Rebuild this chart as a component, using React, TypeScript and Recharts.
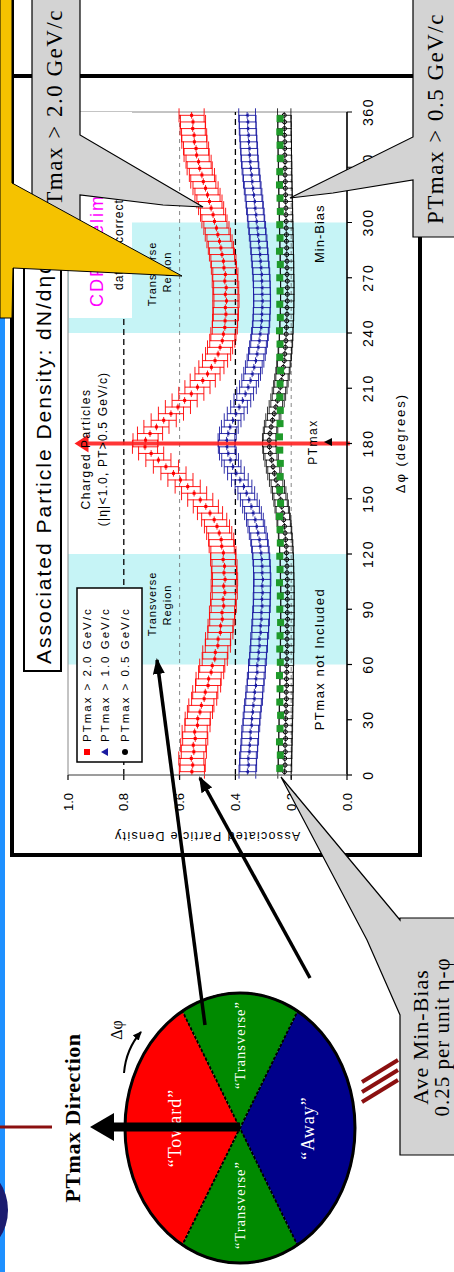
import React from "react";
import {
  ScatterChart,
  Scatter,
  XAxis,
  YAxis,
  ErrorBar,
  ReferenceArea,
  ReferenceLine,
  PieChart,
  Pie,
  Cell,
} from "recharts";

// The slide is laid out in its own (landscape) frame and then turned 90° CCW,
// the way it appears in the picture.
const SANS = "'Liberation Sans', Arial, sans-serif";
const SERIF = "'Liberation Serif', 'Times New Roman', serif";

// Δφ bin centres (3.6° bins)
const PHI = [
  1.8, 5.4, 9, 12.6, 16.2, 19.8, 23.4, 27, 30.6, 34.2,
  37.8, 41.4, 45, 48.6, 52.2, 55.8, 59.4, 63, 66.6, 70.2,
  73.8, 77.4, 81, 84.6, 88.2, 91.8, 95.4, 99, 102.6, 106.2,
  109.8, 113.4, 117, 120.6, 124.2, 127.8, 131.4, 135, 138.6, 142.2,
  145.8, 149.4, 153, 156.6, 160.2, 163.8, 167.4, 171, 174.6, 178.2,
  181.8, 185.4, 189, 192.6, 196.2, 199.8, 203.4, 207, 210.6, 214.2,
  217.8, 221.4, 225, 228.6, 232.2, 235.8, 239.4, 243, 246.6, 250.2,
  253.8, 257.4, 261, 264.6, 268.2, 271.8, 275.4, 279, 282.6, 286.2,
  289.8, 293.4, 297, 300.6, 304.2, 307.8, 311.4, 315, 318.6, 322.2,
  325.8, 329.4, 333, 336.6, 340.2, 343.8, 347.4, 351, 354.6, 358.2,
];

// Min-bias uses 7.2° bins
const PHI_MINBIAS = [
  3.6, 10.8, 18, 25.2, 32.4, 39.6, 46.8, 54, 61.2, 68.4,
  75.6, 82.8, 90, 97.2, 104.4, 111.6, 118.8, 126, 133.2, 140.4,
  147.6, 154.8, 162, 169.2, 176.4, 183.6, 190.8, 198, 205.2, 212.4,
  219.6, 226.8, 234, 241.2, 248.4, 255.6, 262.8, 270, 277.2, 284.4,
  291.6, 298.8, 306, 313.2, 320.4, 327.6, 334.8, 342, 349.2, 356.4,
];

const PT20 = [
  0.556, 0.553, 0.558, 0.549, 0.551, 0.544, 0.546, 0.536, 0.535, 0.527,
  0.522, 0.512, 0.508, 0.498, 0.496, 0.487, 0.483, 0.474, 0.472, 0.463,
  0.462, 0.454, 0.453, 0.447, 0.448, 0.442, 0.444, 0.438, 0.442, 0.437,
  0.441, 0.439, 0.444, 0.443, 0.449, 0.451, 0.458, 0.466, 0.476, 0.491,
  0.506, 0.526, 0.548, 0.571, 0.597, 0.622, 0.649, 0.676, 0.702, 0.724,
  0.722, 0.706, 0.683, 0.657, 0.631, 0.606, 0.582, 0.558, 0.536, 0.517,
  0.5, 0.486, 0.473, 0.462, 0.455, 0.447, 0.443, 0.438, 0.437, 0.434,
  0.436, 0.432, 0.436, 0.433, 0.438, 0.436, 0.441, 0.443, 0.448, 0.452,
  0.457, 0.463, 0.468, 0.475, 0.48, 0.487, 0.493, 0.5, 0.507, 0.515,
  0.52, 0.528, 0.532, 0.539, 0.541, 0.547, 0.548, 0.553, 0.552, 0.557,
];

const PT10 = [
  0.357, 0.354, 0.355, 0.351, 0.35, 0.347, 0.347, 0.343, 0.342, 0.339,
  0.337, 0.333, 0.332, 0.328, 0.327, 0.323, 0.323, 0.319, 0.318, 0.315,
  0.315, 0.311, 0.311, 0.308, 0.308, 0.305, 0.306, 0.304, 0.305, 0.303,
  0.305, 0.305, 0.307, 0.309, 0.312, 0.315, 0.32, 0.325, 0.33, 0.337,
  0.344, 0.352, 0.361, 0.371, 0.384, 0.398, 0.41, 0.419, 0.427, 0.431,
  0.432, 0.427, 0.42, 0.41, 0.399, 0.387, 0.375, 0.365, 0.355, 0.347,
  0.34, 0.334, 0.328, 0.323, 0.319, 0.315, 0.312, 0.309, 0.307, 0.306,
  0.305, 0.304, 0.305, 0.305, 0.306, 0.307, 0.309, 0.311, 0.313, 0.315,
  0.317, 0.32, 0.322, 0.325, 0.327, 0.33, 0.332, 0.335, 0.338, 0.341,
  0.343, 0.346, 0.348, 0.35, 0.351, 0.353, 0.354, 0.356, 0.356, 0.358,
];

const PT05 = [
  0.224, 0.222, 0.223, 0.221, 0.222, 0.22, 0.221, 0.219, 0.22, 0.218,
  0.219, 0.217, 0.218, 0.216, 0.217, 0.216, 0.216, 0.215, 0.216, 0.214,
  0.215, 0.214, 0.215, 0.213, 0.214, 0.213, 0.214, 0.213, 0.214, 0.214,
  0.215, 0.215, 0.216, 0.217, 0.218, 0.22, 0.222, 0.224, 0.227, 0.23,
  0.234, 0.238, 0.243, 0.248, 0.254, 0.26, 0.265, 0.27, 0.275, 0.278,
  0.279, 0.276, 0.272, 0.267, 0.261, 0.255, 0.249, 0.244, 0.239, 0.235,
  0.231, 0.228, 0.225, 0.223, 0.221, 0.219, 0.218, 0.217, 0.216, 0.215,
  0.215, 0.214, 0.214, 0.214, 0.214, 0.215, 0.215, 0.215, 0.216, 0.216,
  0.217, 0.217, 0.218, 0.218, 0.219, 0.219, 0.22, 0.22, 0.221, 0.221,
  0.222, 0.222, 0.222, 0.223, 0.223, 0.223, 0.224, 0.224, 0.224, 0.225,
];

const MINBIAS = [
  0.241, 0.239, 0.242, 0.24, 0.238, 0.241, 0.24, 0.242, 0.239, 0.241,
  0.24, 0.238, 0.241, 0.239, 0.242, 0.24, 0.241, 0.239, 0.24, 0.242,
  0.238, 0.241, 0.24, 0.239, 0.241, 0.242, 0.24, 0.239, 0.241, 0.24,
  0.238, 0.241, 0.24, 0.242, 0.239, 0.241, 0.24, 0.241, 0.239, 0.242,
  0.24, 0.241, 0.239, 0.24, 0.242, 0.241, 0.239, 0.24, 0.241, 0.24,
];

const PT20_ERR = 0.045;
const PT10_ERR = 0.03;
const PT05_ERR = 0.024;
const HALF_BIN = 1.8;

const PHI_TICKS = [0, 30, 60, 90, 120, 150, 180, 210, 240, 270, 300, 330, 360];
const DENSITY_TICKS = [0, 0.2, 0.4, 0.6, 0.8, 1.0];
const TRANSVERSE_BANDS = [
  [60, 120],
  [240, 300],
];
const LEGEND_LABELS = ["PTmax > 2.0 GeV/c", "PTmax > 1.0 GeV/c", "PTmax > 0.5 GeV/c"];

const REGIONS = ["“Toward”", "“Transverse”", "“Away”", "“Transverse”"];
const REGION_SPAN = [120, 60, 120, 60];
const REGION_COLORS = ["#ff0000", "#008a00", "#00008b", "#008a00"];

const points = (vals: number[], phi: number[], err: number, half: number) =>
  vals.map((y, i) => ({ x: phi[i], y, ey: err, ex: half }));

const pt20 = points(PT20, PHI, PT20_ERR, HALF_BIN);
const pt10 = points(PT10, PHI, PT10_ERR, HALF_BIN);
const pt05 = points(PT05, PHI, PT05_ERR, HALF_BIN);
const minBias = points(MINBIAS, PHI_MINBIAS, 0, 0);
const arrowTip = [{ x: 180, y: 0.93 }];
const pieData = REGIONS.map((name, i) => ({ name, value: REGION_SPAN[i] }));

const RED = "#ff0000";
const BLUE = "#1a1aa0";

const RedMark = (p: any) => <rect x={p.cx - 1.5} y={p.cy - 1.5} width={3} height={3} fill={RED} />;
const BlueMark = (p: any) => (
  <polygon points={`${p.cx - 2},${p.cy + 1.5} ${p.cx + 2},${p.cy + 1.5} ${p.cx},${p.cy - 2}`} fill={BLUE} />
);
const BlackMark = (p: any) => <circle cx={p.cx} cy={p.cy} r={2} fill="none" stroke="#000" strokeWidth={1} />;
const GreenMark = (p: any) => <rect x={p.cx - 3.5} y={p.cy - 3.5} width={7} height={7} fill="#1f9a2a" />;
const ArrowHead = (p: any) => (
  <polygon points={`${p.cx - 9},${p.cy + 1} ${p.cx + 9},${p.cy + 1} ${p.cx},${p.cy - 13}`} fill="#ff2020" />
);

function DensityChart() {
  return (
    <ScatterChart width={800} height={370} margin={{ top: 38, right: 40, bottom: 13, left: 27 }}>
      {TRANSVERSE_BANDS.map(([a, b]) => (
        <ReferenceArea key={a} x1={a} x2={b} y1={0} y2={1} fill="#c6f4f6" fillOpacity={1} stroke="none" />
      ))}
      <ReferenceArea x1={0} x2={360} y1={0} y2={1} fill="none" stroke="#888" strokeWidth={1} />
      <ReferenceLine y={0.8} stroke="#000" strokeDasharray="6 4" strokeWidth={1.3} />
      <ReferenceLine y={0.4} stroke="#000" strokeDasharray="6 4" strokeWidth={1.3} />
      <ReferenceLine y={0.6} stroke="#666" strokeDasharray="4 4" strokeWidth={0.8} />
      <ReferenceLine y={0.2} stroke="#666" strokeDasharray="4 4" strokeWidth={0.8} />
      <XAxis
        type="number"
        dataKey="x"
        domain={[0, 360]}
        ticks={PHI_TICKS}
        interval={0}
        height={40}
        tickSize={5}
        tickMargin={11}
        axisLine={{ stroke: "#000", strokeWidth: 1.5 }}
        tickLine={{ stroke: "#000", strokeWidth: 1.2 }}
        tick={{ fontSize: 14, fill: "#000", fontFamily: SANS, letterSpacing: 1.5 }}
      />
      <YAxis
        type="number"
        dataKey="y"
        domain={[0, 1]}
        ticks={DENSITY_TICKS}
        interval={0}
        width={70}
        tickSize={5}
        tickMargin={13}
        tickFormatter={(v: number) => v.toFixed(1)}
        axisLine={{ stroke: "#777", strokeWidth: 1 }}
        tickLine={{ stroke: "#000", strokeWidth: 1.2 }}
        tick={{ fontSize: 13, fill: "#000", fontFamily: SANS }}
      />
      <Scatter data={pt05} shape={BlackMark} isAnimationActive={false}>
        <ErrorBar dataKey="ey" direction="y" width={7} stroke="#000" strokeWidth={0.8} />
        <ErrorBar dataKey="ex" direction="x" width={0} stroke="#000" strokeWidth={0.8} />
      </Scatter>
      <Scatter data={minBias} shape={GreenMark} isAnimationActive={false} />
      <Scatter data={pt10} shape={BlueMark} isAnimationActive={false}>
        <ErrorBar dataKey="ey" direction="y" width={7} stroke={BLUE} strokeWidth={0.9} />
        <ErrorBar dataKey="ex" direction="x" width={0} stroke={BLUE} strokeWidth={0.9} />
      </Scatter>
      <Scatter data={pt20} shape={RedMark} isAnimationActive={false}>
        <ErrorBar dataKey="ey" direction="y" width={7} stroke={RED} strokeWidth={0.9} />
        <ErrorBar dataKey="ex" direction="x" width={0} stroke={RED} strokeWidth={0.9} />
      </Scatter>
      <ReferenceLine
        segment={[
          { x: 180, y: -0.01 },
          { x: 180, y: 0.93 },
        ]}
        stroke="#ff2020"
        strokeOpacity={0.9}
        strokeWidth={4}
        ifOverflow="visible"
      />
      <Scatter data={arrowTip} shape={ArrowHead} isAnimationActive={false} />
    </ScatterChart>
  );
}

function RegionPie() {
  return (
    <PieChart width={280} height={280}>
      <Pie
        data={pieData}
        dataKey="value"
        nameKey="name"
        cx="50%"
        cy="50%"
        outerRadius={135}
        startAngle={30}
        endAngle={390}
        stroke="#000"
        strokeWidth={2}
        strokeDasharray="3 2"
        isAnimationActive={false}
      >
        {pieData.map((d, i) => (
          <Cell key={i} fill={REGION_COLORS[i]} />
        ))}
      </Pie>
    </PieChart>
  );
}

const full: React.CSSProperties = { position: "absolute", left: 0, top: 0, overflow: "visible" };

export default function App() {
  const legendColors = [RED, BLUE, "#000"];
  const legendRows = [87, 105, 125];
  const pieLabelPos = [
    [144, 175],
    [67, 240],
    [144, 308],
    [227, 240],
  ];
  const pieLabelSize = [18, 14.5, 18, 14.5];
  return (
    <div style={{ position: "fixed", left: 0, top: 0, width: 454, height: 1272, overflow: "hidden", background: "#fff" }}>
      <div
        style={{
          position: "absolute",
          left: 0,
          top: 0,
          width: 1272,
          height: 454,
          transformOrigin: "0 0",
          transform: "translateY(1272px) rotate(-90deg)",
        }}
      >
        {/* back layer */}
        <svg width={1272} height={454} style={full}>
          <rect x={0} y={0} width={954} height={5} fill="#1e90ff" />
          <ellipse cx={62} cy={-22} rx={40} ry={30} fill="#1c1c70" />
          <rect x={417} y={12} width={900} height={408} fill="#fff" stroke="#000" strokeWidth={4} />
          <line x1={1196} y1={12} x2={1196} y2={420} stroke="#000" strokeWidth={4} />
          <rect x={601} y={24} width={460} height={37} fill="#fff" stroke="#000" strokeWidth={2} />
          <text x={608} y={51} fontFamily={SANS} fontSize={21} letterSpacing={2} fill="#000">
            Associated Particle Density: dN/dηdφ
          </text>
          <text
            x={436}
            y={207}
            transform="rotate(-90 436 207)"
            textAnchor="middle"
            dominantBaseline="central"
            fontFamily={SANS}
            fontSize={12.5}
            letterSpacing={1.3}
          >
            Associated Particle Density
          </text>
          <text x={829} y={400} textAnchor="middle" dominantBaseline="central" fontFamily={SANS} fontSize={13} letterSpacing={2}>
            Δφ  (degrees)
          </text>
        </svg>

        <div style={{ position: "absolute", left: 400, top: 30 }}>
          <DensityChart />
        </div>

        {/* labels inside the plot */}
        <svg width={1272} height={454} style={full}>
          <g fontFamily={SANS} fill="#000" dominantBaseline="central">
            <text x={823} y={86} textAnchor="middle" fontSize={12} letterSpacing={1.5}>Charged Particles</text>
            <text x={823} y={103} textAnchor="middle" fontSize={12} letterSpacing={1.2}>(|η|&lt;1.0, PT&gt;0.5 GeV/c)</text>
            <text x={668} y={152} textAnchor="middle" fontSize={11} letterSpacing={1}>Transverse</text>
            <text x={667} y={167} textAnchor="middle" fontSize={11} letterSpacing={1}>Region</text>
            <text x={998} y={152} textAnchor="middle" fontSize={11} letterSpacing={1}>Transverse</text>
            <text x={1000} y={167} textAnchor="middle" fontSize={11} letterSpacing={1}>Region</text>
            <text x={613} y={319} textAnchor="middle" fontSize={13} letterSpacing={1.5}>PTmax not Included</text>
            <text x={1009} y={319} fontSize={13} letterSpacing={1}>Min-Bias</text>
            <text x={830} y={313} textAnchor="middle" fontSize={12} letterSpacing={1.5}>PTmax</text>
          </g>
          <polygon points="826,332 834,332 830,324" fill="#000" />
          <rect x={510} y={77} width={174} height={65} fill="#fff" stroke="#000" strokeWidth={1.5} />
          {LEGEND_LABELS.map((l, i) => (
            <g key={l}>
              {i === 0 && <rect x={517} y={legendRows[i] - 3} width={6} height={6} fill={legendColors[i]} />}
              {i === 1 && (
                <polygon
                  points={`516,${legendRows[i] + 3} 524,${legendRows[i] + 3} 520,${legendRows[i] - 4}`}
                  fill={legendColors[i]}
                />
              )}
              {i === 2 && <circle cx={520} cy={legendRows[i]} r={3} fill={legendColors[i]} />}
              <text
                x={530}
                y={legendRows[i]}
                dominantBaseline="central"
                fontFamily={SANS}
                fontSize={11.5}
                letterSpacing={2}
              >
                {l}
              </text>
            </g>
          ))}
          <rect x={954} y={69} width={206} height={63} fill="#fff" />
          <text x={965} y={97} dominantBaseline="central" fontFamily={SANS} fontSize={18} letterSpacing={2} fill="#ff00ff">
            CDF Preliminary
          </text>
          <text x={982} y={119} dominantBaseline="central" fontFamily={SANS} fontSize={12} letterSpacing={1} fill="#000">
            data uncorrected
          </text>
        </svg>

        <div style={{ position: "absolute", left: 4, top: 100, width: 280, height: 280, transform: "scaleY(0.852)" }}>
          <RegionPie />
        </div>

        {/* front layer: pie annotations, arrows, callouts */}
        <svg width={1272} height={454} style={full}>
          <defs>
            <marker id="ah" markerWidth={16} markerHeight={12} refX={14} refY={6} orient="auto" markerUnits="userSpaceOnUse">
              <polygon points="0,0 16,6 0,12" fill="#000" />
            </marker>
            <marker id="ahs" markerWidth={9} markerHeight={8} refX={8} refY={4} orient="auto" markerUnits="userSpaceOnUse">
              <polygon points="0,0 9,4 0,8" fill="#000" />
            </marker>
          </defs>
          <ellipse cx={144} cy={240} rx={135} ry={115} fill="none" stroke="#000" strokeWidth={3} />
          {REGIONS.map((r, i) => (
            <text
              key={i}
              x={pieLabelPos[i][0]}
              y={pieLabelPos[i][1]}
              textAnchor="middle"
              dominantBaseline="central"
              fontFamily={SERIF}
              fontSize={pieLabelSize[i]}
              letterSpacing={1}
              fill="#fff"
            >
              {r}
            </text>
          ))}
          <rect x={140.5} y={112} width={9} height={128} fill="#000" />
          <polygon points="131,114 159,114 145,90" fill="#000" />
          <text x={154} y={80} textAnchor="middle" fontFamily={SERIF} fontSize={22} fontWeight="bold" letterSpacing={0.5}>
            PTmax Direction
          </text>
          <text x={242} y={122} textAnchor="middle" fontFamily={SERIF} fontSize={16}>
            Δφ
          </text>
          <path d="M199,124 Q223,126 240,141" fill="none" stroke="#000" strokeWidth={2} markerEnd="url(#ahs)" />
          <line x1={145} y1={0} x2={145} y2={52} stroke="#8b1010" strokeWidth={3} />
          <line x1={170} y1={362} x2={192} y2={398} stroke="#8b1010" strokeWidth={4} />
          <line x1={180} y1={362} x2={202} y2={398} stroke="#8b1010" strokeWidth={4} />
          <line x1={190} y1={362} x2={212} y2={398} stroke="#8b1010" strokeWidth={4} />
          <line x1={247} y1={205} x2={612} y2={157} stroke="#000" strokeWidth={3.5} markerEnd="url(#ah)" />
          <line x1={294} y1={310} x2={494} y2={200} stroke="#000" strokeWidth={3.5} markerEnd="url(#ah)" />

          <path d="M1042,32 H1282 V80 H1137 L1065,203 L1067,163 L1077,80 H1042 Z" fill="#d3d3d3" stroke="#000" strokeWidth={1.2} />
          <text x={1052} y={62} fontFamily={SERIF} fontSize={23} letterSpacing={1.5}>PTmax &gt; 2.0 GeV/c</text>
          <path d="M1035,460 V413 H1092 L1079,333 L1074,290 L1135,413 H1282 V460 Z" fill="#d3d3d3" stroke="#000" strokeWidth={1.2} />
          <text x={1048} y={443} fontFamily={SERIF} fontSize={23} letterSpacing={1.5}>PTmax &gt; 0.5 GeV/c</text>
          <path d="M117,460 V400 H257 L332,367 L495,281 L352,400 H354 V460 Z" fill="#d3d3d3" stroke="#000" strokeWidth={1.2} />
          <text x={235} y={428} textAnchor="middle" fontFamily={SERIF} fontSize={22} letterSpacing={1}>Ave Min-Bias</text>
          <text x={235} y={449} textAnchor="middle" fontFamily={SERIF} fontSize={21} letterSpacing={1}>0.25 per unit η-φ</text>
          <path d="M954,0 H1282 V12 H1089 L996,182 L1004,13 L954,12 Z" fill="#f5c200" stroke="#000" strokeWidth={1} />
        </svg>
      </div>
    </div>
  );
}
